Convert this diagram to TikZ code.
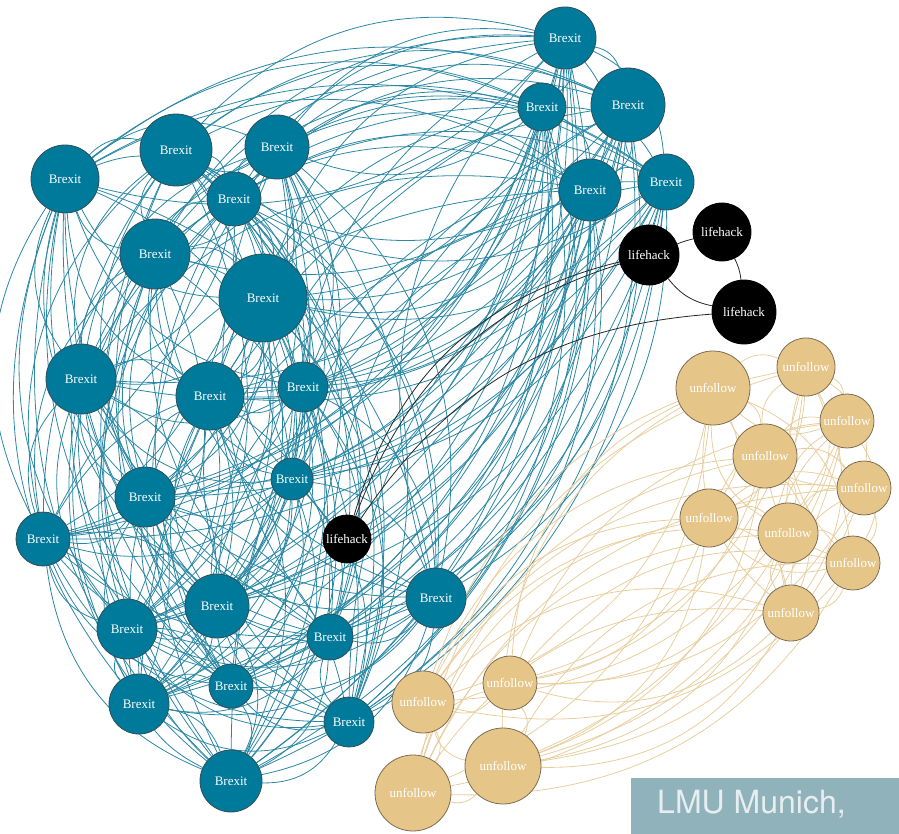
\documentclass[tikz,border=0pt]{standalone}
\usepackage{fontspec}
\setmainfont{Liberation Serif}
\newfontfamily\lmufont{TeX Gyre Heros}
\definecolor{brexitfill}{HTML}{007A9A}
\definecolor{brexitborder}{HTML}{2E4E58}
\definecolor{brexitline}{HTML}{2A88A4}
\definecolor{tanfill}{HTML}{E6C589}
\definecolor{tanborder}{HTML}{7E6C52}
\definecolor{tanline}{HTML}{E8CE9E}
\definecolor{lmubox}{HTML}{90B2BB}
\definecolor{lmutext}{HTML}{E8EEF0}
\pgfdeclarelayer{bg}
\pgfsetlayers{bg,main}
\tikzset{
  bubble/.style={circle, inner sep=0pt, line width=0.8pt, font=\fontsize{13}{13}\selectfont, text=white},
  brexitnode/.style={bubble, fill=brexitfill, draw=brexitborder},
  tannode/.style={bubble, fill=tanfill, draw=tanborder},
  lifenode/.style={bubble, fill=black, draw=black},
  tealline/.style={draw=brexitline, line width=0.8pt},
  tanedge/.style={draw=tanline, line width=0.8pt},
  lifeline/.style={draw=black!85, line width=0.8pt},
}
\def\BX{{565,542,628,590,666,65,176,277,234,155,263,81,210,303,145,292,43,217,127,330,436,231,139,349,231}}
\def\BY{{38,107,105,190,182,179,150,147,199,254,298,379,396,387,497,479,539,606,629,637,598,686,704,722,781}}
\def\BR{{31,24,37,31,28,34,36,32,27,35,44,35,34,25,30,21,27,32,30,23,30,22,30,25,31}}
\def\UX{{713,806,847,765,864,709,788,853,791,510,423,503,413}}
\def\UY{{388,367,421,456,488,518,533,563,613,683,702,766,793}}
\def\UR{{37,29,27,32,27,29,30,27,28,27,31,38,38}}
\begin{document}
\begin{tikzpicture}[x=1pt,y=1pt]
\useasboundingbox (0,0) rectangle (899,-834);
% Brexit nodes
\foreach \i in {0,...,24}{
  \pgfmathsetmacro\nx{\BX[\i]}
  \pgfmathsetmacro\ny{\BY[\i]}
  \pgfmathsetmacro\nd{2*\BR[\i]}
  \node[brexitnode, minimum size=\nd pt] (b\i) at (\nx,-\ny) {Brexit};
}
% unfollow nodes
\foreach \i in {0,...,12}{
  \pgfmathsetmacro\nx{\UX[\i]}
  \pgfmathsetmacro\ny{\UY[\i]}
  \pgfmathsetmacro\nd{2*\UR[\i]}
  \node[tannode, minimum size=\nd pt] (u\i) at (\nx,-\ny) {unfollow};
}
% lifehack nodes
\node[lifenode, minimum size=60pt] (l1) at (649,-255) {lifehack};
\node[lifenode, minimum size=58pt] (l2) at (722,-232) {lifehack};
\node[lifenode, minimum size=64pt] (l3) at (744,-312) {lifehack};
\node[lifenode, minimum size=48pt] (l4) at (347,-539) {lifehack};
% label box
\node[fill=lmubox, minimum width=268pt, minimum height=56pt, inner sep=0pt, anchor=south east] (lmubox) at (899,-834) {};
\node[anchor=base west, inner sep=0pt, text=lmutext, font=\lmufont\fontsize{32}{32}\selectfont] (lmulabel) at (657,-813) {LMU Munich,};
\begin{pgfonlayer}{bg}
% Brexit edges
\foreach \i in {0,...,24}{
  \foreach \j in {\i,...,24}{
    \ifnum\j>\i\relax
      \pgfmathsetmacro\cr{((\BX[\j]-\BX[\i])/100)*((\BY[\i]-300)/100)-((\BY[\i]-\BY[\j])/100)*((220-\BX[\i])/100)}
      \pgfmathsetmacro\fl{ifthenelse(mod(\i+2*\j,5)==0,-1,1)}
      \pgfmathsetmacro\bo{\fl*ifthenelse(\cr>0,-30,30)}
      \pgfmathsetmacro\bi{180-\bo}
      \draw[tealline] (b\i) to[out=\bo, in=\bi, relative] (b\j);
    \fi
  }
}
% unfollow edges
\foreach \i in {0,...,12}{
  \foreach \j in {\i,...,12}{
    \ifnum\j>\i\relax
      \pgfmathsetmacro\cr{((\UX[\j]-\UX[\i])/100)*((\UY[\i]-561)/100)-((\UY[\i]-\UY[\j])/100)*((691-\UX[\i])/100)}
      \pgfmathsetmacro\fl{ifthenelse(mod(\i+\j,2)==0,-1,1)}
      \pgfmathsetmacro\bo{\fl*ifthenelse(\cr>0,-30,30)}
      \pgfmathsetmacro\bi{180-\bo}
      \draw[tanedge] (u\i) to[out=\bo, in=\bi, relative] (u\j);
    \fi
  }
}
% lifehack edges
\draw[lifeline] (l4) to[bend left=30] (l1);
\draw[lifeline] (l4) to[bend left=26] (l1);
\draw[lifeline] (l4) to[bend left=26] (l3);
\draw[lifeline] (l1) to[bend left=4] (l2);
\draw[lifeline] (l2) to[bend left=10] (l3);
\draw[lifeline] (l1) to[bend right=20] (l3);
\end{pgfonlayer}
\end{tikzpicture}
\end{document}
